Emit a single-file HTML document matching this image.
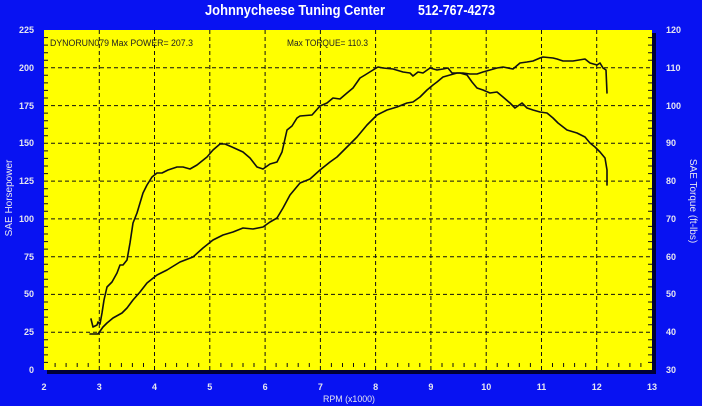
<!DOCTYPE html>
<html><head><meta charset="utf-8"><style>
html,body{margin:0;padding:0;background:#0812f2;}
svg{display:block;}
</style></head><body>
<svg width="702" height="406" viewBox="0 0 702 406" xmlns="http://www.w3.org/2000/svg" font-family="Liberation Sans, Arial, sans-serif">
<rect x="0" y="0" width="702" height="406" fill="#0812f2"/>
<!-- title -->
<text x="205" y="15" font-size="15" font-weight="bold" fill="#ffffff" textLength="180" lengthAdjust="spacingAndGlyphs">Johnnycheese Tuning Center</text>
<text x="418" y="15" font-size="15" font-weight="bold" fill="#ffffff" textLength="77" lengthAdjust="spacingAndGlyphs">512-767-4273</text>
<!-- shadow -->
<rect x="47" y="33" width="609" height="341" fill="#000038"/>
<rect x="44" y="30" width="608" height="340" fill="#ffff00"/>
<!-- grid -->
<g stroke="#111" stroke-width="1" stroke-dasharray="4,3" fill="none">
<line x1="99.3" y1="30" x2="99.3" y2="370"/>
<line x1="154.5" y1="30" x2="154.5" y2="370"/>
<line x1="209.8" y1="30" x2="209.8" y2="370"/>
<line x1="265.1" y1="30" x2="265.1" y2="370"/>
<line x1="320.4" y1="30" x2="320.4" y2="370"/>
<line x1="375.6" y1="30" x2="375.6" y2="370"/>
<line x1="430.9" y1="30" x2="430.9" y2="370"/>
<line x1="486.2" y1="30" x2="486.2" y2="370"/>
<line x1="541.5" y1="30" x2="541.5" y2="370"/>
<line x1="596.7" y1="30" x2="596.7" y2="370"/>
<line x1="44" y1="67.8" x2="652" y2="67.8"/>
<line x1="44" y1="105.6" x2="652" y2="105.6"/>
<line x1="44" y1="143.3" x2="652" y2="143.3"/>
<line x1="44" y1="181.1" x2="652" y2="181.1"/>
<line x1="44" y1="218.9" x2="652" y2="218.9"/>
<line x1="44" y1="256.7" x2="652" y2="256.7"/>
<line x1="44" y1="294.4" x2="652" y2="294.4"/>
<line x1="44" y1="332.2" x2="652" y2="332.2"/>
</g>
<!-- texts in plot -->
<text x="50" y="46" font-size="9" fill="#222" textLength="143" lengthAdjust="spacingAndGlyphs">DYNORUN079 Max POWER= 207.3</text>
<text x="287" y="46" font-size="9" fill="#222" textLength="81" lengthAdjust="spacingAndGlyphs">Max TORQUE= 110.3</text>
<!-- curves -->
<g fill="none" stroke="#111" stroke-width="1.6" stroke-linejoin="round" stroke-linecap="round">
<polyline points="91,319 93,327 97,325 98,322 100,324 102,313 104,300 107,287 112,282 117,273 120,265 123,265 127,260 130,243 133,223 137,213 143,193 147,185 152,177 157,173 162,173 168,170 177,167 183,167 190,169 197,165 207,157 213,150 220,144 225,144 232,147 243,152 250,158 257,167 263,169 270,164 277,162 282,152 287,130 292,126 297,118 300,116 312,115 320,106 327,103 333,98 340,99 347,93 353,88 360,78 365,75 373,70 378,67 383,68 393,69 403,72 410,73 413,76 418,72 423,73 430,68 437,70 443,69 448,68 452,73 460,73 467,75 472,82 477,88 483,90 490,93 497,92 503,97 510,103 515,108 522,103 527,108 533,110 540,112 547,113 553,118 558,123 567,130 577,133 585,137 590,143 595,147 600,152 605,158 607,170 607,185"/>
<polyline points="90,334 98,334 103,327 107,323 113,318 122,313 127,308 133,300 140,292 147,283 157,275 167,270 180,262 193,257 203,248 213,240 223,235 233,232 243,228 253,229 263,227 270,222 277,218 283,208 290,195 300,183 310,179 320,170 330,162 337,157 347,147 357,137 367,125 377,115 387,110 397,107 407,103 413,102 420,97 427,90 433,85 437,82 443,77 450,75 457,73 463,73 470,74 477,74 483,72 490,70 497,68 503,67 513,69 520,63 527,62 533,61 540,58 543,57 553,58 557,59 563,61 573,61 585,59 590,63 597,65 600,63 603,68 606,70 607,93"/>
</g>
<!-- left axis labels -->
<g font-size="9" font-weight="bold" fill="#e6e6f0" text-anchor="end">
<text x="34" y="33">225</text>
<text x="34" y="71">200</text>
<text x="34" y="109">175</text>
<text x="34" y="146">150</text>
<text x="34" y="184">125</text>
<text x="34" y="222">100</text>
<text x="34" y="260">75</text>
<text x="34" y="297">50</text>
<text x="34" y="335">25</text>
<text x="34" y="373">0</text>
</g>
<!-- right axis labels -->
<g font-size="9" font-weight="bold" fill="#e6e6f0" text-anchor="start">
<text x="666" y="33">120</text>
<text x="666" y="71">110</text>
<text x="666" y="109">100</text>
<text x="666" y="146">90</text>
<text x="666" y="184">80</text>
<text x="666" y="222">70</text>
<text x="666" y="260">60</text>
<text x="666" y="297">50</text>
<text x="666" y="335">40</text>
<text x="666" y="373">30</text>
</g>
<!-- x labels -->
<g font-size="9" font-weight="bold" fill="#e6e6f0" text-anchor="middle">
<text x="44" y="390">2</text>
<text x="99.3" y="390">3</text>
<text x="154.5" y="390">4</text>
<text x="209.8" y="390">5</text>
<text x="265.1" y="390">6</text>
<text x="320.4" y="390">7</text>
<text x="375.6" y="390">8</text>
<text x="430.9" y="390">9</text>
<text x="486.2" y="390">10</text>
<text x="541.5" y="390">11</text>
<text x="596.7" y="390">12</text>
<text x="652" y="390">13</text>
</g>
<text x="323" y="402" font-size="9" fill="#e6e6f0" textLength="52" lengthAdjust="spacingAndGlyphs">RPM (x1000)</text>
<text transform="translate(12,198) rotate(-90)" font-size="10" fill="#e6e6f0" text-anchor="middle">SAE Horsepower</text>
<text transform="translate(690,201) rotate(90)" font-size="10" fill="#e6e6f0" text-anchor="middle">SAE Torque (ft-lbs)</text>
<!-- ticks -->
<g stroke="#111" stroke-width="1">
<path d="M55.1 363v4M66.1 363v4M77.2 363v4M88.2 363v4M110.3 363v4M121.4 363v4M132.4 363v4M143.5 363v4M165.6 363v4M176.6 363v4M187.7 363v4M198.7 363v4M220.9 363v4M231.9 363v4M243 363v4M254 363v4M276.1 363v4M287.2 363v4M298.2 363v4M309.3 363v4M331.4 363v4M342.5 363v4M353.5 363v4M364.6 363v4M386.7 363v4M397.7 363v4M408.8 363v4M419.8 363v4M442 363v4M453 363v4M464.1 363v4M475.1 363v4M497.2 363v4M508.3 363v4M519.3 363v4M530.4 363v4M552.5 363v4M563.6 363v4M574.6 363v4M585.7 363v4M607.8 363v4M618.8 363v4M629.9 363v4M640.9 363v4"/>
<path d="M44 37.6h4M44 45.1h4M44 52.7h4M44 60.2h4M44 75.3h4M44 82.9h4M44 90.4h4M44 98h4M44 113.1h4M44 120.7h4M44 128.2h4M44 135.8h4M44 150.9h4M44 158.4h4M44 166h4M44 173.6h4M44 188.7h4M44 196.2h4M44 203.8h4M44 211.3h4M44 226.4h4M44 234h4M44 241.6h4M44 249.1h4M44 264.2h4M44 271.8h4M44 279.3h4M44 286.9h4M44 302h4M44 309.6h4M44 317.1h4M44 324.7h4M44 339.8h4M44 347.3h4M44 354.9h4M44 362.4h4"/>
<path d="M648 37.6h4M648 45.1h4M648 52.7h4M648 60.2h4M648 75.3h4M648 82.9h4M648 90.4h4M648 98h4M648 113.1h4M648 120.7h4M648 128.2h4M648 135.8h4M648 150.9h4M648 158.4h4M648 166h4M648 173.6h4M648 188.7h4M648 196.2h4M648 203.8h4M648 211.3h4M648 226.4h4M648 234h4M648 241.6h4M648 249.1h4M648 264.2h4M648 271.8h4M648 279.3h4M648 286.9h4M648 302h4M648 309.6h4M648 317.1h4M648 324.7h4M648 339.8h4M648 347.3h4M648 354.9h4M648 362.4h4"/>
</g>
</svg>
</body></html>
